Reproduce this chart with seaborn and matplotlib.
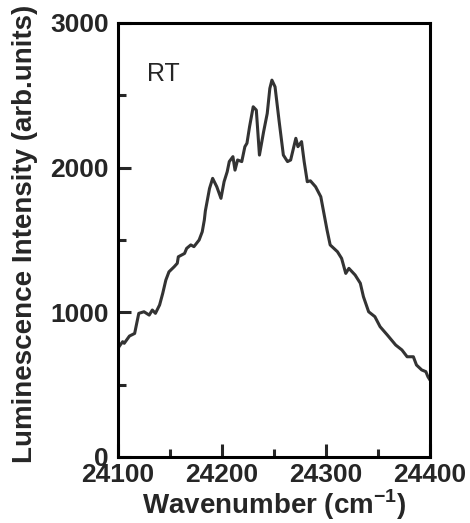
import numpy as np
import pandas as pd
import matplotlib
matplotlib.use("Agg")
import matplotlib.pyplot as plt
import seaborn as sns
from matplotlib.ticker import MultipleLocator

wavenumber = [24100, 24101, 24104.5, 24106, 24111, 24116, 24118, 24120, 24125, 24130,
              24133, 24136, 24140, 24143, 24146, 24149, 24154, 24157, 24158, 24164,
              24166, 24170, 24173, 24178, 24181, 24183, 24184, 24188, 24191, 24195,
              24199, 24202, 24205, 24207, 24210.5, 24212.5, 24215, 24219, 24222, 24224,
              24226.5, 24230, 24233, 24236, 24240, 24243.5, 24246, 24248, 24251, 24255,
              24259, 24263, 24266, 24271, 24273, 24276.5, 24279, 24282, 24285, 24290,
              24295, 24298, 24301, 24304, 24311, 24315, 24319, 24322, 24328, 24333,
              24336, 24341, 24347, 24352, 24359, 24367, 24373, 24378, 24384, 24387,
              24392, 24396, 24398, 24400]
intensity = [745, 763, 797, 786, 836, 854, 924, 993, 1004, 981,
             1016, 993, 1051, 1131, 1223, 1280, 1315, 1339, 1384, 1407,
             1442, 1466, 1454, 1500, 1557, 1638, 1701, 1856, 1926, 1868,
             1788, 1903, 1972, 2042, 2076, 1983, 2053, 2042, 2145, 2169,
             2283, 2421, 2398, 2087, 2248, 2375, 2548, 2605, 2559, 2317,
             2087, 2042, 2053, 2203, 2145, 2180, 2042, 1903, 1909, 1868,
             1799, 1684, 1569, 1466, 1419, 1373, 1269, 1304, 1258, 1201,
             1108, 1004, 970, 901, 843, 774, 740, 693, 693, 636,
             602, 590, 555, 532]

df = pd.DataFrame({"x": wavenumber, "y": intensity})

sns.set_style("ticks")
plt.rcParams['font.family'] = ['Liberation Sans', 'DejaVu Sans']
plt.rcParams['mathtext.fontset'] = 'custom'
plt.rcParams['mathtext.bf'] = 'Liberation Sans:bold'
plt.rcParams['mathtext.rm'] = 'Liberation Sans'

fig = plt.figure(figsize=(4.7, 5.23), dpi=100)
ax = fig.add_axes([118/470, 1-457/523, (430-118)/470, (457-23)/523])

sns.lineplot(data=df, x="x", y="y", ax=ax, color="#333333", linewidth=2.2, sort=False)

ax.set_xlim(24100, 24400)
ax.set_ylim(0, 3000)
ax.xaxis.set_major_locator(MultipleLocator(100))
ax.xaxis.set_minor_locator(MultipleLocator(50))
ax.yaxis.set_major_locator(MultipleLocator(1000))
ax.yaxis.set_minor_locator(MultipleLocator(500))
ax.tick_params(which="both", direction="in", width=2.2, top=False, right=False)
ax.tick_params(which="major", length=9.4, labelsize=19)
ax.tick_params(which="minor", length=5.8)
ax.tick_params(axis="y", which="major", pad=6.5)
ax.tick_params(axis="x", which="major", pad=4)
for lab in ax.get_xticklabels() + ax.get_yticklabels():
    lab.set_fontweight("bold")
for s in ax.spines.values():
    s.set_visible(True)
    s.set_linewidth(2.2)
    s.set_color("black")

ax.set_xlabel("Wavenumber (cm$^{\\mathbf{-1}}$)", fontsize=20, fontweight="bold", labelpad=0.5)
ax.set_ylabel("Luminescence Intensity (arb.units)", fontsize=20, fontweight="bold")
ax.yaxis.set_label_coords(-0.256, 0.514)
ax.text(24128, 2598, "RT", fontsize=18, ha="left", va="baseline")

fig.savefig("out.png", dpi=100)
